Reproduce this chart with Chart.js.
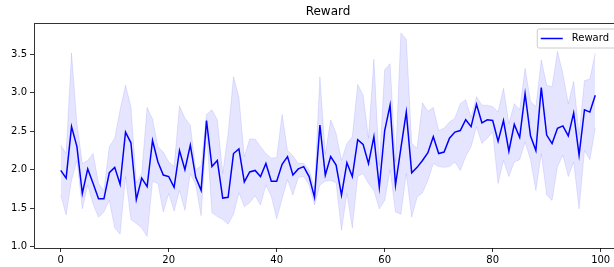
<!DOCTYPE html>
<html>
<head>
<meta charset="utf-8">
<script src="https://cdn.jsdelivr.net/npm/chart.js@4.4.1/dist/chart.umd.min.js"></script>
<style>
  html, body { margin: 0; padding: 0; background: #fff; }
  #wrap { width: 614px; height: 267px; overflow: hidden; position: relative; }
  canvas { display: block; }
</style>
</head>
<body>
<div id="wrap"><canvas id="c" width="640" height="267"></canvas></div>
<script>
const chartTitle = "Reward";
const seriesLabel = "Reward";
const steps = [0,1,2,3,4,5,6,7,8,9,10,11,12,13,14,15,16,17,18,19,20,21,22,23,24,25,26,27,28,29,30,31,32,33,34,35,36,37,38,39,40,41,42,43,44,45,46,47,48,49,50,51,52,53,54,55,56,57,58,59,60,61,62,63,64,65,66,67,68,69,70,71,72,73,74,75,76,77,78,79,80,81,82,83,84,85,86,87,88,89,90,91,92,93,94,95,96,97,98,99];
const rewardMean = [1.99,1.89,2.56,2.30,1.69,2.01,1.82,1.62,1.62,1.96,2.03,1.81,2.49,2.35,1.61,1.89,1.78,2.38,2.10,1.93,1.91,1.77,2.25,2.00,2.32,1.90,1.73,2.64,2.04,2.12,1.63,1.64,2.21,2.27,1.84,1.97,1.99,1.91,2.08,1.85,1.85,2.07,2.17,1.93,2.01,2.04,1.91,1.64,2.58,1.93,2.17,2.06,1.67,2.09,1.91,2.39,2.33,2.08,2.43,1.77,2.51,2.84,1.80,2.28,2.75,1.96,2.03,2.12,2.22,2.43,2.21,2.23,2.41,2.49,2.51,2.65,2.56,2.85,2.61,2.65,2.64,2.37,2.64,2.24,2.59,2.42,2.99,2.44,2.25,3.07,2.45,2.34,2.54,2.57,2.44,2.74,2.19,2.78,2.75,2.97];
const rewardUpper = [2.32,2.21,3.52,2.60,2.08,2.12,2.21,1.82,1.73,2.30,2.41,2.78,3.10,2.82,1.83,1.95,2.81,2.66,2.30,2.23,2.10,2.04,2.83,2.67,2.58,2.00,2.05,2.72,2.78,2.65,1.95,2.47,3.21,2.94,2.17,2.40,2.40,2.30,2.21,2.15,2.16,2.72,2.25,2.18,2.08,2.08,2.00,1.75,3.21,2.20,2.65,2.47,2.12,2.34,2.43,3.11,2.97,2.41,3.44,2.05,3.30,3.38,2.10,3.78,3.70,2.34,2.28,2.87,2.76,2.81,2.51,2.54,2.62,2.67,2.86,2.91,2.68,2.95,2.84,2.84,2.82,2.75,3.06,2.60,2.86,2.78,3.32,2.89,2.82,3.43,3.10,3.08,3.54,3.25,2.86,3.15,2.45,3.16,3.18,3.52];
const rewardLower = [1.67,1.41,1.86,2.12,1.49,1.80,1.55,1.38,1.45,1.60,1.24,1.16,1.91,1.35,1.30,1.24,1.13,1.85,1.82,1.45,1.69,1.46,1.73,1.47,1.95,1.80,1.40,2.50,1.44,1.39,1.35,1.29,1.42,1.70,1.52,1.57,1.66,1.54,1.80,1.65,1.36,1.62,1.87,1.67,1.90,1.91,1.80,1.54,1.80,1.85,1.86,1.83,1.21,1.69,1.24,1.91,1.95,1.82,1.73,1.49,1.60,2.00,1.45,1.42,1.95,1.38,1.64,1.70,1.86,2.08,2.04,2.03,2.04,2.10,1.99,2.17,2.30,2.56,2.34,2.41,2.49,1.82,2.12,1.91,2.10,2.13,2.36,2.13,1.73,2.21,1.67,1.60,2.04,2.19,1.91,2.10,1.49,2.25,2.13,2.54];
const xTicks = [0,20,40,60,80,100];
const yTicks = [1.0,1.5,2.0,2.5,3.0,3.5];

const toXY = arr => arr.map((v, i) => ({x: steps[i], y: v}));
const FONT = "'DejaVu Sans', sans-serif";

const frame = {
  id: 'frame',
  afterDatasetsDraw(chart) {
    const a = chart.chartArea, ctx = chart.ctx;
    ctx.save();
    ctx.strokeStyle = 'rgba(0,0,0,0.8)';
    ctx.lineWidth = 1;
    ctx.strokeRect(Math.round(a.left) + 0.5, Math.round(a.top) + 0.5,
                   Math.round(a.right - a.left), Math.round(a.bottom - a.top));
    ctx.restore();
  }
};

const legendBox = {
  id: 'legendBox',
  afterDraw(chart) {
    const a = chart.chartArea, ctx = chart.ctx;
    ctx.save();
    ctx.font = '10px ' + FONT;
    const tw = ctx.measureText(seriesLabel).width;
    const w = 8 + 22 + 8 + tw + 5;
    const h = 19;
    const x = a.right - 5 - w, y = a.top + 5.5;
    ctx.beginPath();
    ctx.roundRect(x + 0.5, y + 0.5, w, h, 2);
    ctx.fillStyle = 'rgba(255,255,255,0.8)';
    ctx.fill();
    ctx.strokeStyle = '#cccccc';
    ctx.lineWidth = 1;
    ctx.stroke();
    const cy = y + h / 2 + 0.5;
    ctx.beginPath();
    ctx.moveTo(x + 4, cy);
    ctx.lineTo(x + 26, cy);
    ctx.strokeStyle = '#0000ff';
    ctx.lineWidth = 1.5;
    ctx.stroke();
    ctx.fillStyle = '#000';
    ctx.textBaseline = 'middle';
    ctx.textAlign = 'left';
    ctx.fillText(seriesLabel, x + 35, cy);
    ctx.restore();
  }
};

new Chart(document.getElementById('c'), {
  type: 'line',
  data: {
    datasets: [
      {
        label: 'lower', data: toXY(rewardLower), order: 2,
        borderColor: 'rgba(0,0,255,0.1)', borderWidth: 1, pointRadius: 0,
        fill: false, tension: 0
      },
      {
        label: 'upper', data: toXY(rewardUpper), order: 1,
        borderColor: 'rgba(0,0,255,0.1)', borderWidth: 1, pointRadius: 0,
        backgroundColor: 'rgba(0,0,255,0.1)', fill: '-1', tension: 0
      },
      {
        label: seriesLabel, data: toXY(rewardMean), order: 0,
        borderColor: '#0000ff', borderWidth: 1.5, pointRadius: 0,
        fill: false, tension: 0
      }
    ]
  },
  options: {
    responsive: false,
    animation: false,
    devicePixelRatio: 1,
    layout: { padding: { left: 0, right: 18, top: 0, bottom: 0 } },
    plugins: {
      legend: { display: false },
      tooltip: { enabled: false },
      title: {
        display: true, text: chartTitle, fullSize: false,
        color: '#000', font: { family: FONT, size: 12, weight: 'normal' },
        padding: { top: 5, bottom: 3.6 }
      }
    },
    scales: {
      x: {
        type: 'linear', min: -4.95, max: 103.95,
        afterBuildTicks: ax => { ax.ticks = xTicks.map(v => ({ value: v })); },
        afterFit: ax => { ax.height = 19; },
        grid: { drawOnChartArea: false, drawTicks: true, tickLength: 4, tickWidth: 0.8, tickColor: '#000' },
        border: { display: false },
        ticks: { color: '#000', font: { family: FONT, size: 10 }, padding: 2, maxRotation: 0, autoSkip: false }
      },
      y: {
        type: 'linear', min: 0.98, max: 3.91,
        afterBuildTicks: ax => { ax.ticks = yTicks.map(v => ({ value: v })); },
        afterFit: ax => { ax.width = 34; },
        grid: { drawOnChartArea: false, drawTicks: true, tickLength: 4, tickWidth: 0.8, tickColor: '#000' },
        border: { display: false },
        ticks: { color: '#000', font: { family: FONT, size: 10 }, padding: 3,
                 callback: v => Number(v).toFixed(1), autoSkip: false }
      }
    }
  },
  plugins: [frame, legendBox]
});
</script>
</body>
</html>
